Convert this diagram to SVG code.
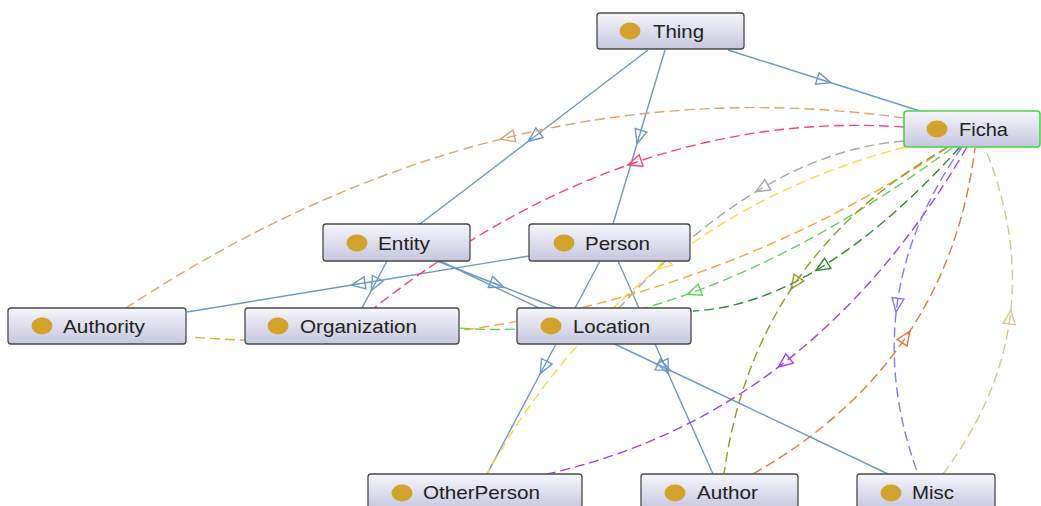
<svg xmlns="http://www.w3.org/2000/svg" width="1041" height="506" viewBox="0 0 1041 506">
<defs>
<linearGradient id="g" x1="0" y1="0" x2="0" y2="1">
<stop offset="0" stop-color="#f6f6fb"/>
<stop offset="1" stop-color="#c6c6de"/>
</linearGradient>
<marker id="m-blue" markerUnits="userSpaceOnUse" viewBox="-10 -10 20 20" markerWidth="20" markerHeight="20" refX="0" refY="0" orient="auto" overflow="visible"><path d="M7,0 L-7,-6 L-7,6 Z" fill="none" stroke="#6b9ac4" stroke-width="1.4"/></marker>
<marker id="m-tan" markerUnits="userSpaceOnUse" viewBox="-10 -10 20 20" markerWidth="20" markerHeight="20" orient="auto" overflow="visible"><path d="M7,0 L-7,-6 L-7,6 Z" fill="none" stroke="#dfa36a" stroke-width="1.4"/></marker>
<marker id="m-pink" markerUnits="userSpaceOnUse" viewBox="-10 -10 20 20" markerWidth="20" markerHeight="20" orient="auto" overflow="visible"><path d="M7,0 L-7,-6 L-7,6 Z" fill="none" stroke="#ff3d7f" stroke-width="1.4"/></marker>
<marker id="m-gray" markerUnits="userSpaceOnUse" viewBox="-10 -10 20 20" markerWidth="20" markerHeight="20" orient="auto" overflow="visible"><path d="M7,0 L-7,-6 L-7,6 Z" fill="none" stroke="#a8a8a8" stroke-width="1.4"/></marker>
<marker id="m-yellow" markerUnits="userSpaceOnUse" viewBox="-10 -10 20 20" markerWidth="20" markerHeight="20" orient="auto" overflow="visible"><path d="M7,0 L-7,-6 L-7,6 Z" fill="none" stroke="#ffd640" stroke-width="1.4"/></marker>
<marker id="m-orange" markerUnits="userSpaceOnUse" viewBox="-10 -10 20 20" markerWidth="20" markerHeight="20" orient="auto" overflow="visible"><path d="M7,0 L-7,-6 L-7,6 Z" fill="none" stroke="#ffa033" stroke-width="1.4"/></marker>
<marker id="m-green" markerUnits="userSpaceOnUse" viewBox="-10 -10 20 20" markerWidth="20" markerHeight="20" orient="auto" overflow="visible"><path d="M7,0 L-7,-6 L-7,6 Z" fill="none" stroke="#5fd35f" stroke-width="1.4"/></marker>
<marker id="m-dgreen" markerUnits="userSpaceOnUse" viewBox="-10 -10 20 20" markerWidth="20" markerHeight="20" orient="auto" overflow="visible"><path d="M7,0 L-7,-6 L-7,6 Z" fill="none" stroke="#2e8b2e" stroke-width="1.4"/></marker>
<marker id="m-olive" markerUnits="userSpaceOnUse" viewBox="-10 -10 20 20" markerWidth="20" markerHeight="20" orient="auto" overflow="visible"><path d="M7,0 L-7,-6 L-7,6 Z" fill="none" stroke="#9a9a2a" stroke-width="1.4"/></marker>
<marker id="m-purple" markerUnits="userSpaceOnUse" viewBox="-10 -10 20 20" markerWidth="20" markerHeight="20" orient="auto" overflow="visible"><path d="M7,0 L-7,-6 L-7,6 Z" fill="none" stroke="#a43cf0" stroke-width="1.4"/></marker>
<marker id="m-violet" markerUnits="userSpaceOnUse" viewBox="-10 -10 20 20" markerWidth="20" markerHeight="20" orient="auto" overflow="visible"><path d="M7,0 L-7,-6 L-7,6 Z" fill="none" stroke="#7b7bff" stroke-width="1.4"/></marker>
<marker id="m-brown" markerUnits="userSpaceOnUse" viewBox="-10 -10 20 20" markerWidth="20" markerHeight="20" orient="auto" overflow="visible"><path d="M7,0 L-7,-6 L-7,6 Z" fill="none" stroke="#e07a3c" stroke-width="1.4"/></marker>
<marker id="m-khaki" markerUnits="userSpaceOnUse" viewBox="-10 -10 20 20" markerWidth="20" markerHeight="20" orient="auto" overflow="visible"><path d="M7,0 L-7,-6 L-7,6 Z" fill="none" stroke="#d2c98a" stroke-width="1.4"/></marker>
</defs>
<style>
.sub{fill:none;stroke:#6b9ac4;stroke-width:1.4;marker-mid:url(#m-blue)}
.prop{fill:none;stroke-width:1.4;stroke-dasharray:10 5}
.box{fill:url(#g);stroke:#4a4a4a;stroke-width:1.3}
.sel{stroke:#4bd34b;stroke-width:1.6}
.dot{fill:#d2a22e}
.lbl{font-family:"Liberation Sans",Arial,sans-serif;font-size:19px;fill:#222}
</style>
<rect width="1041" height="506" fill="#ffffff"/>
<g id="connectors">
<path class="sub" d="M648,50 L534,137 L420,224"/>
<path class="sub" d="M665,50 L639,137 L613,224"/>
<path class="sub" d="M728,50 L824,80.5 L920,111"/>
<path class="sub" d="M387,261 L374.5,284.5 L362,308"/>
<path class="sub" d="M529,256 L358,284 L187,312"/>
<path class="sub" d="M437,261 L497,284.5 L557,308"/>
<path class="sub" d="M440,261 L664,367.5 L888,474"/>
<path class="sub" d="M600,261 L543.5,367.5 L487,474"/>
<path class="sub" d="M618,261 L665.5,367.5 L713,474"/>
<path class="prop" stroke="#dfa36a" marker-mid="url(#m-tan)" d="M904,118 Q702,90 507.5,137.5 Q313,185 126,308"/>
<path class="prop" stroke="#ff3d7f" marker-mid="url(#m-pink)" d="M904,127 Q767,117.5 634.5,162.75 Q502,208 374,308"/>
<path class="prop" stroke="#a8a8a8" marker-mid="url(#m-gray)" d="M904,141 Q833,146.5 761.75,188.25 Q690.5,230 619,308"/>
<path class="prop" stroke="#ffd640" marker-mid="url(#m-yellow)" d="M905,147 Q767.5,183 663,264.75 Q558.5,346.5 487,474"/>
<path class="prop" stroke="#ffa033" marker-mid="url(#m-orange)" d="M947,148 C815,234.9 677.86,289.01 537.96,317.39 C423.44,340.62 307,346 190,337"/>
<path class="prop" stroke="#5fd35f" marker-mid="url(#m-green)" d="M952,148 Q817,247 693.75,292 Q570.5,337 459,328"/>
<path class="prop" stroke="#2e8b2e" marker-mid="url(#m-dgreen)" d="M960,147 Q888.5,226 821.75,267 Q755,308 693,311"/>
<path class="prop" stroke="#9a9a2a" marker-mid="url(#m-olive)" d="M948,147 Q851,201.5 795,283.25 Q739,365 724,474"/>
<path class="prop" stroke="#a43cf0" marker-mid="url(#m-purple)" d="M967,147 Q889,281 784,362.75 Q679,444.5 547,474"/>
<path class="prop" stroke="#7b7bff" marker-mid="url(#m-violet)" d="M962,147 Q908,223.5 897,305.25 Q886,387 918,474"/>
<path class="prop" stroke="#e07a3c" marker-mid="url(#m-brown)" d="M753,474 Q850.5,418.5 906,337 Q961.5,255.5 975,148"/>
<path class="prop" stroke="#d2c98a" marker-mid="url(#m-khaki)" d="M943,474 Q999.5,398.5 1010,317 Q1020.5,235.5 985,148"/>
</g>
<g id="node-thing"><rect class="box" x="597" y="13" width="147" height="36" rx="3"/><ellipse class="dot" cx="630" cy="31" rx="10.5" ry="8.5"/><text class="lbl" x="653" y="38" textLength="51" lengthAdjust="spacingAndGlyphs">Thing</text></g>
<g id="node-ficha"><rect class="box sel" x="904" y="111" width="136" height="36" rx="3"/><ellipse class="dot" cx="937" cy="129" rx="10.5" ry="8.5"/><text class="lbl" x="959" y="136" textLength="49" lengthAdjust="spacingAndGlyphs">Ficha</text></g>
<g id="node-entity"><rect class="box" x="323" y="224" width="147" height="37" rx="3"/><ellipse class="dot" cx="357" cy="243" rx="10.5" ry="8.5"/><text class="lbl" x="378" y="250" textLength="52" lengthAdjust="spacingAndGlyphs">Entity</text></g>
<g id="node-person"><rect class="box" x="529" y="224" width="161" height="37" rx="3"/><ellipse class="dot" cx="564" cy="243" rx="10.5" ry="8.5"/><text class="lbl" x="585" y="250" textLength="65" lengthAdjust="spacingAndGlyphs">Person</text></g>
<g id="node-authority"><rect class="box" x="8" y="308" width="178" height="36" rx="3"/><ellipse class="dot" cx="42" cy="326" rx="10.5" ry="8.5"/><text class="lbl" x="63" y="333" textLength="82" lengthAdjust="spacingAndGlyphs">Authority</text></g>
<g id="node-organization"><rect class="box" x="245" y="308" width="214" height="36" rx="3"/><ellipse class="dot" cx="278" cy="326" rx="10.5" ry="8.5"/><text class="lbl" x="300" y="333" textLength="117" lengthAdjust="spacingAndGlyphs">Organization</text></g>
<g id="node-location"><rect class="box" x="517" y="308" width="174" height="36" rx="3"/><ellipse class="dot" cx="551" cy="326" rx="10.5" ry="8.5"/><text class="lbl" x="573" y="333" textLength="77" lengthAdjust="spacingAndGlyphs">Location</text></g>
<g id="node-otherperson"><rect class="box" x="368" y="474" width="214" height="36" rx="3"/><ellipse class="dot" cx="402" cy="493" rx="10.5" ry="8.5"/><text class="lbl" x="423" y="499" textLength="117" lengthAdjust="spacingAndGlyphs">OtherPerson</text></g>
<g id="node-author"><rect class="box" x="641" y="474" width="157" height="36" rx="3"/><ellipse class="dot" cx="675" cy="493" rx="10.5" ry="8.5"/><text class="lbl" x="697" y="499" textLength="61" lengthAdjust="spacingAndGlyphs">Author</text></g>
<g id="node-misc"><rect class="box" x="857" y="474" width="138" height="36" rx="3"/><ellipse class="dot" cx="891" cy="493" rx="10.5" ry="8.5"/><text class="lbl" x="912" y="499" textLength="42" lengthAdjust="spacingAndGlyphs">Misc</text></g>
</svg>
